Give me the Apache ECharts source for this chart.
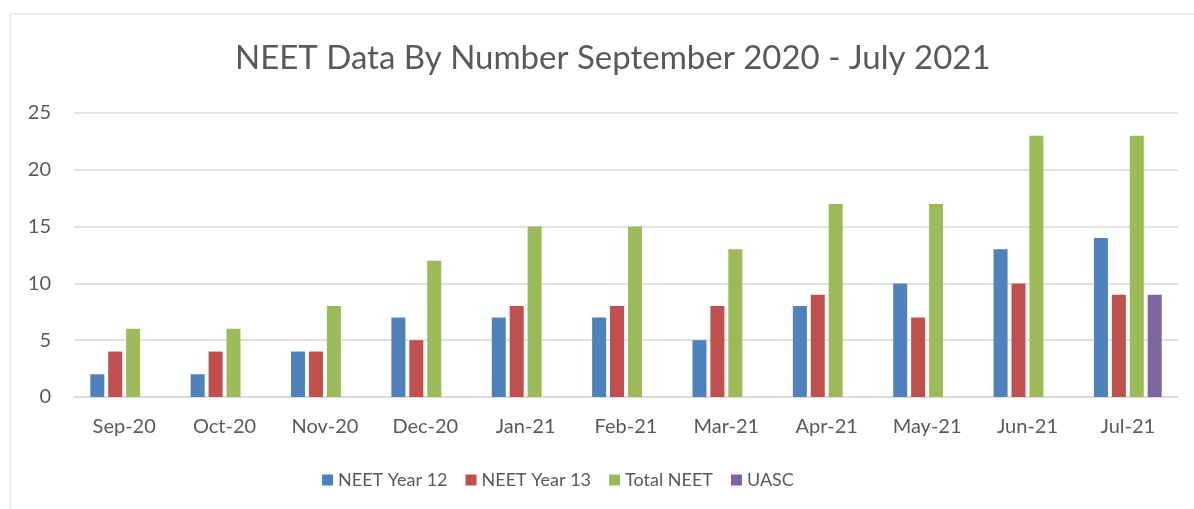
<!DOCTYPE html>
<html>
<head>
<meta charset="utf-8">
<script src="https://cdn.jsdelivr.net/npm/echarts@6/dist/echarts.min.js"></script>
<style>
  html, body { margin: 0; padding: 0; background: #fff; }
  #main { width: 1194px; height: 509px; }
</style>
</head>
<body>
<div id="main"></div>
<script>
// months on the x axis
var months = ['Sep-20', 'Oct-20', 'Nov-20', 'Dec-20', 'Jan-21', 'Feb-21', 'Mar-21', 'Apr-21', 'May-21', 'Jun-21', 'Jul-21'];
var neetYear12 = [2, 2, 4, 7, 7, 7, 5, 8, 10, 13, 14];
var neetYear13 = [4, 4, 4, 5, 8, 8, 8, 9, 7, 10, 9];
var totalNeet = [6, 6, 8, 12, 15, 15, 13, 17, 17, 23, 23];
var uasc = [null, null, null, null, null, null, null, null, null, null, 9];

var textColor = '#595959';
var font = 'Lato';

var myechart = echarts.init(document.getElementById('main'));
myechart.setOption({
  animation: false,
  color: ['#4F81BD', '#C0504D', '#9BBB59', '#8064A2'],
  graphic: [{
    type: 'rect',
    shape: { x: 10, y: 14, width: 1200, height: 520 },
    style: { fill: 'none', stroke: '#d9d9d9', lineWidth: 1 },
    silent: true
  }],
  title: {
    text: 'NEET Data By Number September 2020 - July 2021',
    left: 230,
    top: 37,
    textStyle: { fontFamily: font, fontSize: 33, fontWeight: 'normal', color: textColor }
  },
  legend: {
    bottom: 15,
    left: 317,
    itemWidth: 11,
    itemHeight: 11,
    itemGap: 18,
    icon: 'rect',
    textStyle: { fontFamily: font, fontSize: 18, color: textColor }
  },
  grid: { left: 74, right: 16, top: 113, bottom: 112 },
  xAxis: {
    type: 'category',
    data: months,
    axisLine: { lineStyle: { color: '#d9d9d9', width: 1.5 } },
    axisTick: { show: false },
    axisLabel: { fontFamily: font, fontSize: 20, color: textColor, margin: 20 }
  },
  yAxis: {
    type: 'value',
    min: 0,
    max: 25,
    interval: 5,
    axisLine: { show: false },
    axisTick: { show: false },
    splitLine: { lineStyle: { color: '#d9d9d9', width: 1.5 } },
    axisLabel: { fontFamily: font, fontSize: 20, color: textColor, margin: 23 }
  },
  series: [
    { name: 'NEET Year 12', type: 'bar', data: neetYear12, barWidth: 14, barGap: '28%', barCategoryGap: '32%' },
    { name: 'NEET Year 13', type: 'bar', data: neetYear13, barWidth: 14, barGap: '28%' },
    { name: 'Total NEET', type: 'bar', data: totalNeet, barWidth: 14, barGap: '28%' },
    { name: 'UASC', type: 'bar', data: uasc, barWidth: 14, barGap: '28%' }
  ]
});
</script>
</body>
</html>
